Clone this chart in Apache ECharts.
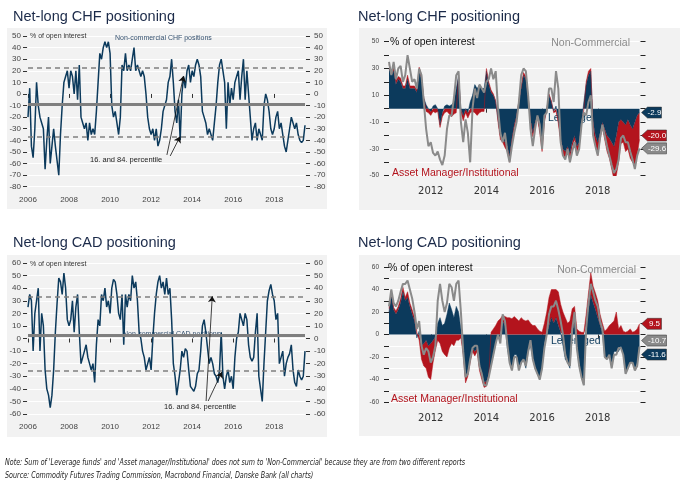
<!DOCTYPE html>
<html><head><meta charset="utf-8">
<script src="https://cdn.jsdelivr.net/npm/echarts@6/dist/echarts.min.js"></script>
<style>html,body{margin:0;padding:0;background:#fff}#c{width:693px;height:489px}</style>
</head><body><div id="c"></div>
<script>
// ---------- DATA ----------
const leftYears = [2006, 2008, 2010, 2012, 2014, 2016, 2018];
const rightYears = [2012, 2014, 2016, 2018];
const leftStart = 2006.0;   // monthly observations
const rightStart = 2010.5;  // monthly observations
const lastObs = 2019.5;

// Net-long CHF, non-commercial (% of open interest), 2006 - mid 2019
const chfNonCommercialLong = [-20,5,-45,-55,-30,10,-10,-20,-25,-30,-65,-40,
 -20,-60,-45,-30,-45,-45,-70,-35,-10,10,15,20,
 5,20,15,0,20,-5,25,-20,-25,-30,-25,-40,
 -25,-35,-30,-35,-15,10,35,30,40,45,40,45,
 35,-10,-20,-15,-25,-35,-20,25,20,35,20,25,
 20,30,40,20,25,20,15,20,15,0,-20,-30,
 -35,-30,-40,-30,-45,-40,-30,-15,-10,-5,10,15,
 30,10,-15,-25,-5,-40,0,15,5,20,25,10,
 20,15,25,30,25,15,-15,-20,-25,-35,-30,-35,
 -40,-25,-10,10,25,30,30,10,-30,10,-10,5,
 -5,10,15,20,-5,15,30,-5,20,0,-20,-40,
 -30,-25,-40,-30,-35,-40,-10,0,-5,-15,-30,-35,
 -30,-20,-15,-30,-25,-35,-45,-50,-50,-30,-20,-25,
 -30,-25,-35,-40,-42,-40,-27];
const chfAverage = -9, chfP84 = 23, chfP16 = -37;

// Net-long CAD, non-commercial (% of open interest), 2006 - mid 2019
const cadNonCommercialLong = [25,35,30,-10,20,20,40,-10,20,10,-25,-40,
 -45,-55,-45,-25,5,28,48,45,35,52,40,15,
 10,15,30,5,25,35,5,-20,-15,-10,-5,-15,
 -20,-25,-20,-35,-5,15,10,35,30,40,25,30,
 20,40,47,45,35,20,15,35,-5,35,25,35,
 30,50,40,45,30,5,0,-10,-15,-25,-20,-15,
 -25,0,20,35,45,50,40,45,35,48,35,40,
 15,-20,-30,-45,-35,-25,-10,-15,-8,-10,-25,-38,
 -40,-42,-38,-28,-25,-10,10,15,5,5,-20,-15,
 -20,-28,-30,-35,-25,5,-30,-40,-30,-25,-35,-30,
 -40,-15,0,5,20,15,10,20,15,-5,-15,-18,
 -15,5,20,-30,-40,-50,-20,5,30,38,43,35,
 30,15,20,-20,-20,-10,-30,-20,-15,-12,-5,-25,
 -35,-38,-25,-30,-33,-30,-10];
const cadAverage = 2.5, cadP84 = 33, cadP16 = -26;

// CHF split by trader type, mid 2010 - mid 2019
const chfNonComm = [35,25,35,22,30,32,20,25,40,30,20,22,
 15,30,25,5,-15,-28,-25,-33,-35,-32,-38,-42,
 -35,-15,-5,-5,8,25,28,-10,-25,-8,-18,-40,
 0,15,8,18,15,12,20,22,30,22,28,0,
 -18,-25,-18,-32,-40,-28,-18,-10,5,25,30,28,
 10,-15,-28,-15,-5,-12,-30,-5,-3,15,15,5,
 28,15,-25,-35,-38,-30,-40,-32,-25,-35,-30,-12,
 -3,-5,5,10,-20,-28,-35,-22,-12,-20,-28,-35,
 -42,-48,-45,-38,-22,-20,-25,-25,-32,-38,-45,-35,
 -29.6];
const chfLeveraged = [30,25,28,18,22,20,15,15,22,15,15,15,
 12,28,22,8,3,0,-2,2,3,0,-12,-3,
 2,3,2,3,5,15,25,0,-5,0,-3,5,
 10,18,15,18,15,15,28,18,12,10,5,-8,
 -20,-22,-25,-28,-35,-22,-12,-5,5,15,25,22,
 8,-8,-18,-10,-5,-15,-28,-8,0,10,5,-2,
 2,-8,-22,-30,-32,-28,-33,-25,-20,-28,-25,-10,
 5,18,25,28,-10,-20,-25,-18,-10,-15,-20,-22,
 -25,-28,-20,-10,-8,-10,-12,-8,-12,-15,-10,-5,
 -2.9];
const chfAssetMgr = [3,2,4,3,2,3,2,2,3,2,2,2,
 2,3,3,0,-2,-3,-3,-2,-3,-2,-2,-3,
 -3,-2,-4,-6,-4,-3,0,-3,-4,-3,-4,-3,
 -2,-3,-5,-3,-2,-2,2,2,2,1,1,-2,
 -3,-3,-4,-4,-5,-3,-2,-2,1,2,2,2,
 1,-2,-3,-2,-2,-3,-4,-2,-1,1,1,-1,
 -2,-3,-3,-4,-5,-3,-4,-3,-3,-4,-3,-2,
 -1,2,3,2,-5,-8,-10,-5,-4,-8,-12,-15,
 -20,-25,-30,-30,-18,-15,-20,-22,-25,-25,-32,-30,
 -20.0];

// CAD split by trader type, mid 2010 - mid 2019
const cadNonComm = [25,40,28,25,30,38,45,45,48,40,32,20,
 5,12,-10,-18,-12,-15,-25,-20,-10,30,45,30,
 20,28,45,42,30,45,48,20,-15,-38,-35,-22,
 -12,-10,-10,-28,-35,-45,-45,-38,-28,-18,-8,0,
 -8,18,12,-8,-25,-32,-20,-20,-32,-25,-22,-28,
 -15,-5,-22,-30,-35,-40,-30,-12,0,18,25,25,
 30,22,12,0,-18,-25,-28,5,20,-12,-28,-38,
 -45,5,28,45,38,30,25,12,5,-20,-22,-18,
 -30,-18,-18,-12,-12,-18,-35,-30,-25,-25,-32,-28,
 -10.7];
const cadLeveraged = [20,35,22,18,22,28,38,30,33,25,18,12,
 -3,3,-10,-8,-5,-10,-8,-5,-2,10,15,8,
 10,18,28,22,15,25,20,5,-15,-38,-32,-22,
 -12,-15,-12,-28,-35,-42,-42,-35,-27,-18,-8,0,
 -5,12,8,-12,-25,-30,-18,-18,-28,-25,-22,-30,
 -15,-10,-22,-30,-35,-40,-30,-8,0,8,15,10,
 15,8,2,-10,-22,-25,-30,3,10,-12,-28,-38,
 -45,8,22,35,28,22,15,8,2,-20,-22,-18,
 -28,-15,-15,-15,-10,-18,-35,-30,-25,-25,-30,-25,
 -11.6];
const cadAssetMgr = [3,3,2,3,3,4,4,3,5,3,4,3,
 2,-5,-12,-20,-25,-28,-32,-20,-12,-5,-8,-15,
 -18,-20,-12,-8,-10,-5,-5,-3,-3,-5,-5,-3,
 -3,-4,-3,-4,-5,-5,-4,-3,2,5,8,12,
 14,5,8,15,15,14,16,14,12,15,13,12,
 13,10,8,8,5,3,2,10,20,25,25,30,
 25,30,25,20,15,10,12,20,15,5,3,2,
 2,10,15,20,15,15,15,10,8,3,5,8,
 10,12,20,5,8,3,2,3,5,2,3,5,
 9.5];

// annotation arrows (data coordinates: [year, value])
const chfArrows = [[[2012.77,-52.6],[2013.58,15.5]], [[2012.93,-53.5],[2013.41,-36.8]]];
const cadArrows = [[[2014.68,-49.7],[2014.98,33.5]], [[2014.78,-49.7],[2015.45,-26.6]]];

// ---------- STYLE ----------
const NAVY = '#0c3a5c', RED = '#b3141d', GREY = '#8a8a8a', BG = '#f2f2f2', LVL = '#7f7f7f';
const FF = '"Liberation Sans", Arial, sans-serif';

// [year, value] pairs for plain lines
function monthly(start, arr) { return arr.map((v, i) => [start + i / 12, v]); }
// [value, year] pairs for stacked areas (value first so the stack runs on the value dimension)
function monthlyVF(start, arr) { return arr.map((v, i) => [v, start + i / 12]); }

const chart = echarts.init(document.getElementById('c'), null, {renderer: 'canvas'});

const grids = [
  {left: 28, top: 36, width: 277, height: 150.7},
  {left: 389, top: 41.7, width: 250.5, height: 134},
  {left: 28, top: 263, width: 277, height: 151},
  {left: 389, top: 267, width: 250.5, height: 135}
];

function leftX(gi) {
  return {type: 'value', gridIndex: gi, min: leftStart, max: lastObs, offset: 4,
    axisLine: {show: false}, splitLine: {show: false},
    axisTick: {show: true, length: 4, customValues: leftYears, lineStyle: {color: '#333'}},
    axisLabel: {customValues: leftYears, formatter: v => String(v), fontSize: 8, color: '#444', margin: 5, fontFamily: FF}};
}
function rightX(gi) {
  return {type: 'value', gridIndex: gi, min: rightStart, max: lastObs, offset: 7,
    axisLine: {show: false}, splitLine: {show: false},
    axisTick: {show: true, length: 4, customValues: rightYears, lineStyle: {color: '#333'}},
    axisLabel: {customValues: rightYears, formatter: v => String(v), fontSize: 10, color: '#333', margin: 4, fontFamily: '"DejaVu Sans", sans-serif'}};
}
function leftYPair(gi, min, max) {
  const base = {type: 'value', gridIndex: gi, min: min, max: max, interval: 10,
    axisLine: {show: false},
    axisTick: {show: true, length: 4, lineStyle: {color: '#333'}},
    axisLabel: {fontSize: 8, color: '#444', fontFamily: FF, formatter: v => String(v)}};
  return [
    Object.assign({}, base, {position: 'left', offset: 1, axisLabel: Object.assign({}, base.axisLabel, {margin: 6}),
      splitLine: {show: true, lineStyle: {color: '#ffffff', width: 1}}}),
    Object.assign({}, base, {position: 'right', offset: 1, axisLabel: Object.assign({}, base.axisLabel, {margin: 8}),
      splitLine: {show: false}})
  ];
}
function rightYPair(gi, min, max) {
  const base = {type: 'value', gridIndex: gi, min: min, max: max, interval: 10,
    axisLine: {show: false},
    axisTick: {show: true, length: 5, lineStyle: {color: '#222'}}};
  return [
    Object.assign({}, base, {position: 'left', splitLine: {show: true, lineStyle: {color: '#ffffff', width: 1}},
      axisLabel: {fontSize: 6.5, color: '#444', margin: 10, fontFamily: FF,
        formatter: v => ((v - min) % 20 === 0 ? String(v) : '')}}),
    Object.assign({}, base, {position: 'right', offset: 1, splitLine: {show: false}, axisLabel: {show: false}})
  ];
}

function levelLines(avg, p84, p16, arrows) {
  const dash = {color: LVL, width: 1.5, type: [5, 4]};
  const data = [
    {yAxis: avg, lineStyle: {color: LVL, width: 3, type: 'solid'}},
    {yAxis: p84, lineStyle: dash},
    {yAxis: p16, lineStyle: dash}
  ];
  arrows.forEach(a => {
    data.push([
      {coord: a[0], symbol: 'none', lineStyle: {color: '#111', width: 0.8, type: 'solid'}},
      {coord: a[1], symbol: 'arrow', symbolSize: 6, lineStyle: {color: '#111', width: 0.8, type: 'solid'}}
    ]);
  });
  return {silent: true, symbol: ['none', 'none'], label: {show: false}, animation: false, data: data,
    emphasis: {disabled: true}};
}

function tag(value, color, dy) {
  const w = value.toFixed(1).length > 4 ? 25 : 20;
  return {
    silent: true, animation: false,
    data: [{coord: [lastObs, value], value: value,
      symbol: 'path://M0,6L6,0L' + w + ',0L' + w + ',12L6,12Z',
      symbolSize: [w, 11], symbolKeepAspect: false,
      symbolOffset: [w / 2 + 2, dy],
      itemStyle: {color: color, borderColor: '#333', borderWidth: 0.5},
      label: {show: true, position: 'inside', formatter: value.toFixed(1), color: '#fff', fontSize: 8,
        fontFamily: FF, offset: [3, 0]}}]
  };
}

function lineSeries(xi, yi, data, color, width, z) {
  return {type: 'line', xAxisIndex: xi, yAxisIndex: yi, data: data, showSymbol: false, symbol: 'none',
    lineStyle: {color: color, width: width}, itemStyle: {color: color}, animation: false, silent: true, z: z || 3};
}
function areaSeries(xi, yi, data, color, stack) {
  return {type: 'line', xAxisIndex: xi, yAxisIndex: yi, data: data, encode: {x: 1, y: 0},
    stack: stack, stackStrategy: 'samesign',
    showSymbol: false, symbol: 'none', lineStyle: {color: color, width: 0.5}, itemStyle: {color: color},
    areaStyle: {color: color, opacity: 1}, animation: false, silent: true, z: 2};
}

const s1 = lineSeries(0, 0, monthly(leftStart, chfNonCommercialLong), NAVY, 1.5);
s1.markLine = levelLines(chfAverage, chfP84, chfP16, chfArrows);
const s3 = lineSeries(2, 4, monthly(leftStart, cadNonCommercialLong), NAVY, 1.5);
s3.markLine = levelLines(cadAverage, cadP84, cadP16, cadArrows);

const chfLevS = areaSeries(1, 2, monthlyVF(rightStart, chfLeveraged), NAVY, 'chf');
const chfAmS = areaSeries(1, 2, monthlyVF(rightStart, chfAssetMgr), RED, 'chf');
const chfNcS = lineSeries(1, 2, monthly(rightStart, chfNonComm), GREY, 2, 4);
chfNcS.markPoint = {silent: true, animation: false, data: [
  tag(chfLeveraged[chfLeveraged.length - 1], NAVY, 0),
  tag(chfAssetMgr[chfAssetMgr.length - 1], RED, 0),
  tag(chfNonComm[chfNonComm.length - 1], GREY, 0)].map(t => t.data[0])};

const cadLevS = areaSeries(3, 6, monthlyVF(rightStart, cadLeveraged), NAVY, 'cad');
const cadAmS = areaSeries(3, 6, monthlyVF(rightStart, cadAssetMgr), RED, 'cad');
const cadNcS = lineSeries(3, 6, monthly(rightStart, cadNonComm), GREY, 2, 4);
cadNcS.markPoint = {silent: true, animation: false, data: [
  tag(cadAssetMgr[cadAssetMgr.length - 1], RED, 0),
  tag(cadNonComm[cadNonComm.length - 1], GREY, -6),
  tag(cadLeveraged[cadLeveraged.length - 1], NAVY, 7)].map(t => t.data[0])};

function txt(x, y, text, size, color, extra, el) {
  return Object.assign({type: 'text', x: x, y: y, silent: true, z: 5,
    style: Object.assign({text: text, fill: color, font: size + 'px ' + FF, verticalAlign: 'middle', align: 'left'}, (extra || {}))}, (el || {}));
}
function rect(x, y, w, h) {
  return {type: 'rect', shape: {x: x, y: y, width: w, height: h}, style: {fill: BG}, z: -10, silent: true};
}
const TITLE = '#1b2a49';
const under = t => { t.z = 1; return t; };
const NOTE_FONT = 'italic 8.5px "Liberation Sans Narrow", "DejaVu Sans Condensed", "Liberation Sans", sans-serif';

const graphics = [
  rect(7, 28, 320, 181), rect(359, 28, 321, 182), rect(7, 255, 320, 182), rect(359, 255, 321, 181),
  txt(13, 16.5, 'Net-long CHF positioning', 14.5, TITLE),
  txt(358, 16.5, 'Net-long CHF positioning', 14.5, TITLE),
  txt(13, 243, 'Net-long CAD positioning', 14.5, TITLE),
  txt(358, 243, 'Net-long CAD positioning', 14.5, TITLE),
  // left panels
  txt(30, 36.5, '% of open interest', 7, '#333'),
  txt(115, 38.5, 'Non-commercial CHF positions', 7, '#34506e'),
  txt(90, 160, '16. and 84. percentile', 7.5, '#222'),
  txt(30, 264, '% of open interest', 7, '#333'),
  under(txt(123, 334, 'Non-commercial CAD positions', 7, '#34506e')),
  txt(164, 407, '16. and 84. percentile', 7.5, '#222'),
  // right panels
  txt(390, 42, '% of open interest', 10.5, '#111'),
  txt(630, 43, 'Non-Commercial', 10.5, GREY, {align: 'right'}),
  txt(392, 173.5, 'Asset Manager/Institutional', 10.5, RED),
  under(txt(548, 118, 'Leveraged funds', 10.5, NAVY)),
  txt(388, 268, '% of open interest', 10.5, '#111'),
  txt(636, 270, 'Non-Commercial', 10.5, GREY, {align: 'right'}),
  txt(391, 399, 'Asset Manager/Institutional', 10.5, RED),
  under(txt(551, 341, 'Leveraged funds', 10.5, NAVY)),
  // footnotes
  txt(5, 463, "Note: Sum of 'Leverage funds' and 'Asset manager/Institutional' does not sum to 'Non-Commercial' because they are from two different reports", 8.5, '#222',
    {font: NOTE_FONT}, {scaleX: 0.835}),
  txt(5, 476, 'Source: Commodity Futures Trading Commission, Macrobond Financial, Danske Bank (all charts)', 8.5, '#222',
    {font: NOTE_FONT}, {scaleX: 0.835})
];

chart.setOption({
  animation: false,
  backgroundColor: '#ffffff',
  textStyle: {fontFamily: FF},
  grid: grids,
  xAxis: [leftX(0), rightX(1), leftX(2), rightX(3)],
  yAxis: [].concat(leftYPair(0, -80, 50), rightYPair(1, -50, 50), leftYPair(2, -60, 60), rightYPair(3, -60, 60)),
  series: [s1, chfLevS, chfAmS, chfNcS, s3, cadLevS, cadAmS, cadNcS],
  graphic: {elements: graphics}
});
</script></body></html>
